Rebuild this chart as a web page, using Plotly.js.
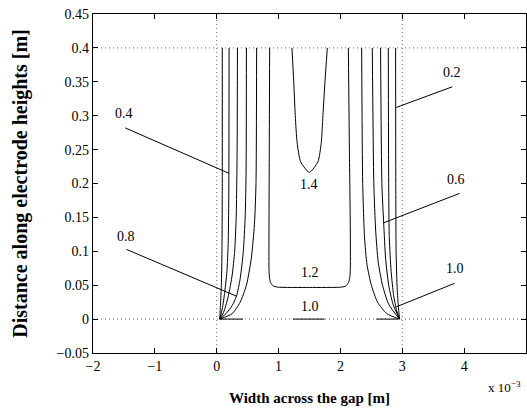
<!DOCTYPE html>
<html>
<head>
<meta charset="utf-8">
<script src="https://cdn.plot.ly/plotly-3.0.1.min.js"></script>
<style>html,body{margin:0;padding:0;background:#fff;}#chart{width:527px;height:413px;}</style>
</head>
<body>
<div id="chart"></div>
<script>
// x values in units of 1e-3 m, y values in m
// Left-electrode contour lines (levels 0.2 ... 1.0)
const L02x = [0.05, 0.06, 0.075, 0.085, 0.09, 0.09];
const L02y = [0, 0.02, 0.05, 0.10, 0.20, 0.40];
const L04x = [0.05, 0.09, 0.13, 0.165, 0.185, 0.195, 0.20];
const L04y = [0, 0.015, 0.04, 0.07, 0.11, 0.18, 0.40];
const L06x = [0.05, 0.12, 0.19, 0.25, 0.29, 0.315, 0.33, 0.335];
const L06y = [0, 0.012, 0.035, 0.065, 0.10, 0.15, 0.25, 0.40];
const L08x = [0.05, 0.15, 0.25, 0.32, 0.38, 0.43, 0.46, 0.475, 0.48];
const L08y = [0, 0.008, 0.02, 0.034, 0.06, 0.10, 0.15, 0.22, 0.40];
const L10x = [0.05, 0.25, 0.38, 0.48, 0.56, 0.61, 0.635, 0.645];
const L10y = [0, 0.008, 0.025, 0.05, 0.09, 0.14, 0.20, 0.40];
// Right-electrode contour lines
const R02x = [2.892, 2.895, 2.90, 2.915, 2.935, 2.956];
const R02y = [0.40, 0.20, 0.10, 0.05, 0.02, 0];
const R04x = [2.774, 2.78, 2.79, 2.82, 2.86, 2.91, 2.956];
const R04y = [0.40, 0.20, 0.12, 0.07, 0.035, 0.012, 0];
const R06x = [2.649, 2.67, 2.70, 2.73, 2.78, 2.85, 2.956];
const R06y = [0.40, 0.20, 0.14, 0.09, 0.05, 0.022, 0];
const R08x = [2.515, 2.54, 2.57, 2.61, 2.68, 2.78, 2.956];
const R08y = [0.40, 0.20, 0.13, 0.085, 0.05, 0.022, 0];
const R10x = [2.343, 2.36, 2.39, 2.43, 2.50, 2.60, 2.75, 2.956];
const R10y = [0.40, 0.20, 0.12, 0.08, 0.05, 0.025, 0.008, 0];
// Level 1.0 pieces lying on y = 0
const F10Lx = [0.05, 0.425];  const F10Ly = [0, 0];
const F10Mx = [1.233, 1.745]; const F10My = [0, 0];
const F10Rx = [2.58, 2.93];   const F10Ry = [0, 0];
// Level 1.2 (open at top)
const C12x = [0.856, 0.85, 0.845, 0.845, 0.852, 0.87, 0.91, 0.98, 1.5, 2.02, 2.09, 2.13, 2.152, 2.16, 2.16, 2.145, 2.128];
const C12y = [0.40, 0.25, 0.13, 0.075, 0.062, 0.054, 0.049, 0.0472, 0.0467, 0.0472, 0.049, 0.054, 0.062, 0.075, 0.13, 0.25, 0.40];
// Level 1.4 (open at top)
const C14x = [1.216, 1.245, 1.27, 1.30, 1.357, 1.497, 1.636, 1.69, 1.717, 1.75, 1.788];
const C14y = [0.40, 0.35, 0.30, 0.26, 0.232, 0.2164, 0.232, 0.26, 0.30, 0.35, 0.40];

// Contour labels
const labelText = ['0.4', '0.8', '0.2', '0.6', '1.0', '1.4', '1.2', '1.0'];
const labelX = [-1.50, -1.459, 3.808, 3.872, 3.845, 1.486, 1.502, 1.502];
const labelY = [0.303, 0.1215, 0.364, 0.206, 0.0747, 0.198, 0.0684, 0.0183];
// Leader lines: [from x, to x], [from y, to y]
const leaderX = [[-1.479, 0.199], [-1.459, 0.318], [3.808, 2.903], [3.926, 2.698], [3.845, 2.903]];
const leaderY = [[0.282, 0.215], [0.1028, 0.0339], [0.3426, 0.3122], [0.1854, 0.142], [0.0527, 0.0181]];

// Electrode / gap edges (dotted)
const gapEdgesX = [0, 3];
const electrodeY = [0, 0.4];

const xTickVals = [-2, -1, 0, 1, 2, 3, 4, 5];
const xTickText = ['\u22122', '\u22121', '0', '1', '2', '3', '4', '5'];
const yTickVals = [-0.05, 0, 0.05, 0.1, 0.15, 0.2, 0.25, 0.3, 0.35, 0.4, 0.45];
const yTickText = ['\u22120.05', '0', '0.05', '0.1', '0.15', '0.2', '0.25', '0.3', '0.35', '0.4', '0.45'];

const xRange = [-2, 5];
const yRange = [-0.05, 0.45];

const traces = [];
const dotStyle = {color: '#6e6e6e', width: 1, dash: '1px,3px'};
gapEdgesX.forEach(v => traces.push({x: [v, v], y: yRange, mode: 'lines', line: dotStyle, hoverinfo: 'skip'}));
electrodeY.forEach(v => traces.push({x: xRange, y: [v, v], mode: 'lines', line: dotStyle, hoverinfo: 'skip'}));

const curves = [[L02x, L02y], [L04x, L04y], [L06x, L06y], [L08x, L08y], [L10x, L10y],
  [R02x, R02y], [R04x, R04y], [R06x, R06y], [R08x, R08y], [R10x, R10y],
  [F10Lx, F10Ly], [F10Mx, F10My], [F10Rx, F10Ry], [C12x, C12y], [C14x, C14y]];
curves.forEach(c => traces.push({x: c[0], y: c[1], mode: 'lines', line: {color: '#000', width: 1, shape: 'spline', smoothing: 0.6}, hoverinfo: 'skip'}));
leaderX.forEach((lx, i) => traces.push({x: lx, y: leaderY[i], mode: 'lines', line: {color: '#000', width: 1}, hoverinfo: 'skip'}));

const serif = 'Liberation Serif, Times New Roman, serif';
const annotations = labelText.map((t, i) => ({
  x: labelX[i], y: labelY[i], xref: 'x', yref: 'y', text: t, showarrow: false,
  font: {family: serif, size: 14, color: '#000'}, xanchor: 'center', yanchor: 'middle'
}));
annotations.push({x: (486 - 93) / 433, y: (353 - 387) / 339, xref: 'paper', yref: 'paper',
  text: 'x 10<sup>\u22123</sup>', showarrow: false,
  font: {family: serif, size: 13, color: '#000'}, xanchor: 'left', yanchor: 'middle'});

const axisCommon = {
  showline: true, linecolor: '#000', linewidth: 1.3, mirror: 'ticks',
  ticks: 'inside', ticklen: 5, tickcolor: '#000', tickwidth: 1,
  showgrid: false, zeroline: false, tickmode: 'array',
  tickfont: {family: serif, size: 14, color: '#000'}
};

const layout = {
  width: 527, height: 413,
  margin: {l: 93, r: 1, t: 14, b: 60},
  paper_bgcolor: '#fff', plot_bgcolor: '#fff',
  showlegend: false,
  xaxis: Object.assign({}, axisCommon, {
    range: xRange, tickvals: xTickVals, ticktext: xTickText,
    title: {text: '<b>Width across the gap [m]</b>', font: {family: serif, size: 15, color: '#000'}, standoff: 19}
  }),
  yaxis: Object.assign({}, axisCommon, {
    range: yRange, tickvals: yTickVals, ticktext: yTickText,
    title: {text: '<b>Distance along electrode heights [m]</b>', font: {family: serif, size: 20, color: '#000'}, standoff: 23}
  }),
  annotations: annotations
};

Plotly.newPlot('chart', traces, layout, {staticPlot: true, displayModeBar: false});
</script>
</body>
</html>
